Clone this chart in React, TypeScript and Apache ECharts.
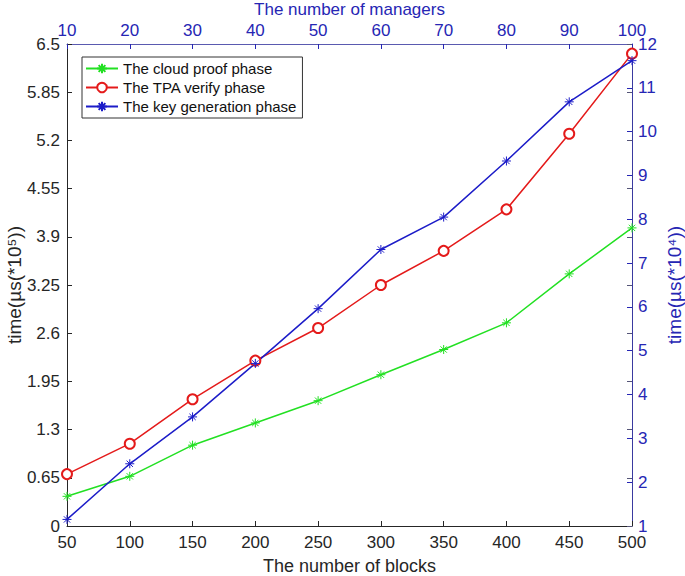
import React, { useEffect, useRef } from "react";
import * as echarts from "echarts";

const blocks = [50, 100, 150, 200, 250, 300, 350, 400, 450, 500];
const managers = [10, 20, 30, 40, 50, 60, 70, 80, 90, 100];
const cloudProof = [0.4, 0.67, 1.09, 1.39, 1.69, 2.04, 2.38, 2.74, 3.4, 4.02];
const tpaVerify = [0.7, 1.11, 1.71, 2.23, 2.67, 3.25, 3.71, 4.27, 5.29, 6.37];
const keyGen = [1.15, 2.42, 3.49, 4.71, 5.96, 7.31, 8.05, 9.33, 10.68, 11.62];

const FONT = "Liberation Sans";
const DARK = "#262626";
const BLUE = "#2626b4";
const ASTERISK = "path://M0,-10L0,10M-10,0L10,0M-7,-7L7,7M-7,7L7,-7";

export default function App() {
  const ref = useRef<HTMLDivElement>(null);
  useEffect(() => {
    const chart = echarts.init(ref.current!, null, { renderer: "svg" });
    const tick = (color: string) => ({ show: true, inside: true, length: 5, lineStyle: { color, width: 1 } });
    chart.setOption({
      animation: false,
      backgroundColor: "#ffffff",
      textStyle: { fontFamily: FONT },
      grid: { left: 67, right: 53, top: 44, bottom: 50, containLabel: false, outerBoundsMode: "none" },
      legend: {
        orient: "vertical",
        left: 82,
        top: 57,
        itemWidth: 32,
        itemHeight: 12,
        itemGap: 4,
        padding: [4, 6, 4, 3],
        borderColor: "#333333",
        borderWidth: 1,
        backgroundColor: "#ffffff",
        textStyle: { fontFamily: FONT, fontSize: 15, color: "#111111" },
        data: ["The cloud proof phase", "The TPA verify phase", "The key generation phase"],
      },
      xAxis: [
        {
          type: "value",
          position: "bottom",
          min: 50,
          max: 500,
          interval: 50,
          name: "The number of blocks",
          nameLocation: "middle",
          nameGap: 31,
          nameMoveOverlap: false,
          nameTextStyle: { fontFamily: FONT, fontSize: 18, color: DARK },
          axisLine: { show: true, onZero: false, lineStyle: { color: DARK, width: 1 } },
          axisTick: tick(DARK),
          axisLabel: { fontFamily: FONT, fontSize: 17, color: DARK, margin: 8 },
          splitLine: { show: false },
        },
        {
          type: "value",
          position: "top",
          min: 10,
          max: 100,
          interval: 10,
          name: "The number of managers",
          nameLocation: "middle",
          nameGap: 26,
          nameMoveOverlap: false,
          nameTextStyle: { fontFamily: FONT, fontSize: 17, color: BLUE },
          axisLine: { show: true, onZero: false, lineStyle: { color: "#5a5ab0", width: 1 } },
          axisTick: tick(BLUE),
          axisLabel: { fontFamily: FONT, fontSize: 17, color: BLUE, margin: 5 },
          splitLine: { show: false },
        },
      ],
      yAxis: [
        {
          type: "value",
          position: "left",
          min: 0,
          max: 6.5,
          interval: 0.65,
          name: "time(µs(*10\u2075))",
          nameLocation: "middle",
          nameGap: 43,
          nameMoveOverlap: false,
          nameTextStyle: { fontFamily: FONT, fontSize: 19, color: DARK },
          axisLine: { show: true, onZero: false, lineStyle: { color: DARK, width: 1 } },
          axisTick: tick(DARK),
          axisLabel: {
            fontFamily: FONT,
            fontSize: 17,
            color: DARK,
            margin: 7,
            formatter: (v: number) => String(+v.toFixed(2)),
          },
          splitLine: { show: false },
        },
        {
          type: "value",
          position: "right",
          min: 1,
          max: 12,
          interval: 1,
          name: "time(µs(*10\u2074))",
          nameLocation: "middle",
          nameGap: 33,
          nameRotate: 90,
          nameMoveOverlap: false,
          nameTextStyle: { fontFamily: FONT, fontSize: 19, color: BLUE },
          axisLine: { show: true, onZero: false, lineStyle: { color: "#3a3aa0", width: 1 } },
          axisTick: tick(BLUE),
          axisLabel: { fontFamily: FONT, fontSize: 17, color: BLUE, margin: 6 },
          splitLine: { show: false },
        },
        {
          type: "value",
          position: "right",
          min: 0,
          max: 6.5,
          interval: 0.65,
          axisLine: { show: false },
          axisTick: tick("#555577"),
          axisLabel: { show: false },
          splitLine: { show: false },
        },
      ],
      series: [
        {
          name: "The cloud proof phase",
          type: "line",
          xAxisIndex: 0,
          yAxisIndex: 0,
          data: blocks.map((b, i) => [b, cloudProof[i]]),
          symbol: ASTERISK,
          symbolSize: 9,
          lineStyle: { color: "#22e022", width: 1.5 },
          itemStyle: { color: "#22e022", borderColor: "#22e022", borderWidth: 1 },
        },
        {
          name: "The TPA verify phase",
          type: "line",
          xAxisIndex: 0,
          yAxisIndex: 0,
          data: blocks.map((b, i) => [b, tpaVerify[i]]),
          symbol: "emptyCircle",
          symbolSize: 10,
          lineStyle: { color: "#e41a1a", width: 1.5 },
          itemStyle: { color: "#e41a1a", borderColor: "#e41a1a", borderWidth: 1.5 },
        },
        {
          name: "The key generation phase",
          type: "line",
          xAxisIndex: 1,
          yAxisIndex: 1,
          data: managers.map((m, i) => [m, keyGen[i]]),
          symbol: ASTERISK,
          symbolSize: 9,
          lineStyle: { color: "#1c1cc8", width: 1.5 },
          itemStyle: { color: "#1c1cc8", borderColor: "#1c1cc8", borderWidth: 1 },
        },
      ],
    });
    return () => chart.dispose();
  }, []);
  return (
    <div
      ref={ref}
      style={{ position: "fixed", left: 0, top: 0, width: 685, height: 576 }}
    />
  );
}
